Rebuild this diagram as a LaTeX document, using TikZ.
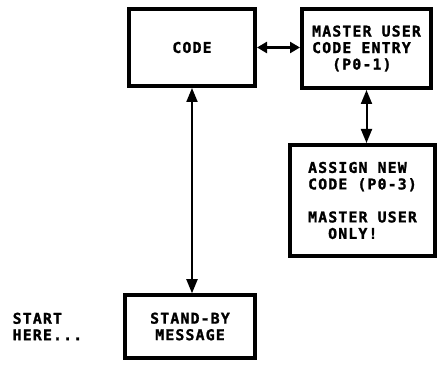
\documentclass[tikz,border=0pt]{standalone}
\usepackage{fontspec}
\usetikzlibrary{arrows.meta}
\newfontfamily\plotfont{DejaVu Sans Mono}[LetterSpace=8,BoldFeatures={FakeBold=1.5}]
\newcommand\indnt{\hspace*{20pt}}

\begin{document}
\begin{tikzpicture}[x=1pt,y=-1pt,
    lbl/.style={align=left,inner sep=0pt,font=\plotfont\bfseries\fontsize{14.8}{16.5}\selectfont},
    box/.style={lbl,draw,line width=4pt},
    biarrow/.style={line width=2pt,{Triangle[length=14pt,width=11pt]}-{Triangle[length=14pt,width=11pt]}}]
  \useasboundingbox (0,0) rectangle (440,366);

  \node[box,minimum width=126pt,minimum height=77pt] (code) at (192,47.5) {CODE};
  \node[box,minimum width=129pt,minimum height=79pt] (master) at (366.5,48.5)
    {MASTER USER\\CODE ENTRY\\\indnt(P0-1)};
  \node[box,minimum width=145pt,minimum height=111pt] (assign) at (362.5,200.5)
    {ASSIGN NEW\\CODE (P0-3)\\[16.5pt]MASTER USER\\\indnt ONLY!};
  \node[box,align=center,line width=3.5pt,minimum width=130pt,minimum height=63pt] (standby) at (190,326.5)
    {STAND-BY\\MESSAGE};
  \node[lbl,anchor=west] (start) at (12.5,326.5) {START\\HERE...};

  % connectors
  \draw[biarrow,line width=3pt,{Triangle[length=10pt,width=11pt]}-{Triangle[length=10pt,width=11pt]}]
    (code.east) -- (code.east -| master.west);
  \draw[biarrow] (code.south) -- (code.south |- standby.north);
  \draw[biarrow] (master.south) -- (master.south |- assign.north);
\end{tikzpicture}
\end{document}
